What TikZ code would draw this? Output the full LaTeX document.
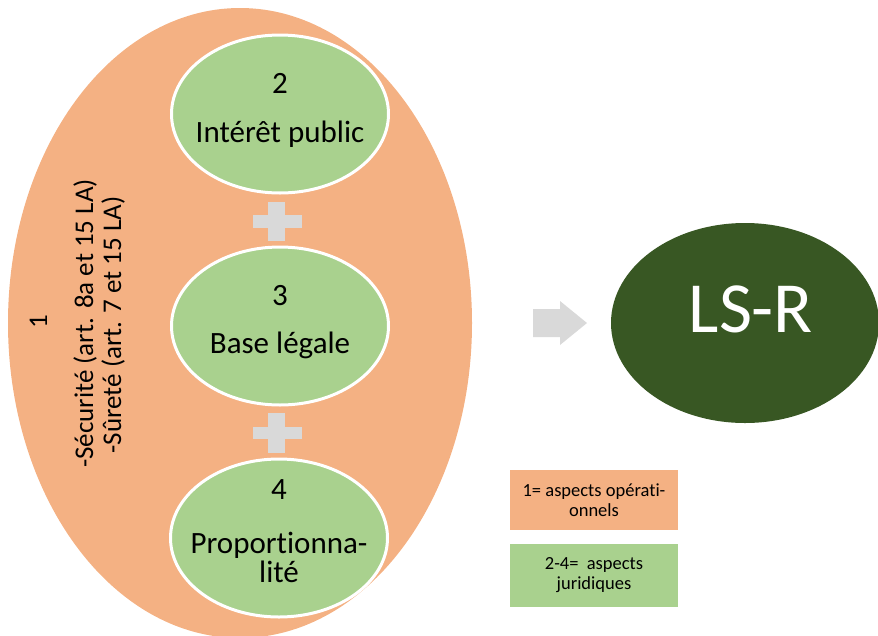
\documentclass[tikz,border=0pt]{standalone}
\usepackage{fontspec}
\setmainfont[Ligatures={NoCommon}]{Carlito}
\usetikzlibrary{shapes.geometric}
\definecolor{orangeF}{HTML}{F4B183}
\definecolor{greenF}{HTML}{A9D18E}
\definecolor{darkG}{HTML}{385723}
\definecolor{greyF}{HTML}{D9D9D9}
\newcommand\myfs[1]{\fontsize{#1}{#1}\selectfont}
\begin{document}
\begin{tikzpicture}[x=1pt,y=-1pt,
  bigell/.style={ellipse, fill=orangeF, draw=none, minimum width=464pt, minimum height=630pt, inner sep=0pt},
  greenell/.style={ellipse, fill=greenF, draw=white, line width=3pt, minimum width=217pt, minimum height=158pt, inner sep=0pt},
  resell/.style={ellipse, fill=darkG, draw=none, minimum width=268pt, minimum height=200pt, inner sep=0pt},
  txt/.style={anchor=base, inner sep=0pt, text=black},
  ellfont/.style={font=\myfs{31}},
  sidefont/.style={font=\myfs{27}},
  legbox/.style={rectangle, draw=none, minimum width=168pt, inner sep=0pt, align=center, font=\fontsize{18.5}{20}\selectfont},
  plusbar/.style={fill=greyF, draw=none}
]
\useasboundingbox (0,0) rectangle (878,635);
% big orange ellipse
\node[bigell] (op) at (240,323) {};
% side text (rotated)
\node[txt, sidefont, rotate=90] (one) at (47,322) {1};
\node[txt, sidefont, rotate=90] (secu) at (93,323.5) {-Sécurité (art.\hspace{9pt}8a et 15 LA)};
\node[txt, sidefont, rotate=90] (sure) at (121,325) {-Sûreté (art. 7 et 15 LA)};
% plus signs
\fill[plusbar] (253,215) rectangle (302,228);
\fill[plusbar] (268,202) rectangle (285,241);
\fill[plusbar] (253,427) rectangle (302,439);
\fill[plusbar] (268,413) rectangle (285,453);
% green ellipses
\node[greenell] (e2) at (280,114) {};
\node[greenell] (e3) at (280,326) {};
\node[greenell] (e4) at (279,538) {};
\node[txt, ellfont] (e2n) at (280,93) {2};
\node[txt, ellfont] (e2t) at (280,142) {Intérêt public};
\node[txt, ellfont] (e3n) at (280,305) {3};
\node[txt, ellfont] (e3t) at (280,353) {Base légale};
\node[txt, ellfont] (e4n) at (279,499) {4};
\node[txt, ellfont] (e4t) at (279,553) {Proportionna-};
\node[txt, ellfont] (e4u) at (279,582) {lité};
% block arrow
\fill[greyF] (533,309) -- (560,309) -- (560,301) -- (587,323) -- (560,345) -- (560,337) -- (533,337) -- cycle;
% result ellipse
\node[resell] (lsr) at (745,323) {};
\node[anchor=base, inner sep=0pt, text=white, font=\myfs{72}] (lsrt) at (751,332) {LS-R};
% legend
\node[legbox, fill=orangeF, minimum height=60pt] (leg1) at (594,500) {1= aspects opérati-\\onnels};
\node[legbox, fill=greenF, minimum height=63pt] (leg2) at (594,575.5) {2-4=~ aspects\\juridiques};
\end{tikzpicture}
\end{document}
